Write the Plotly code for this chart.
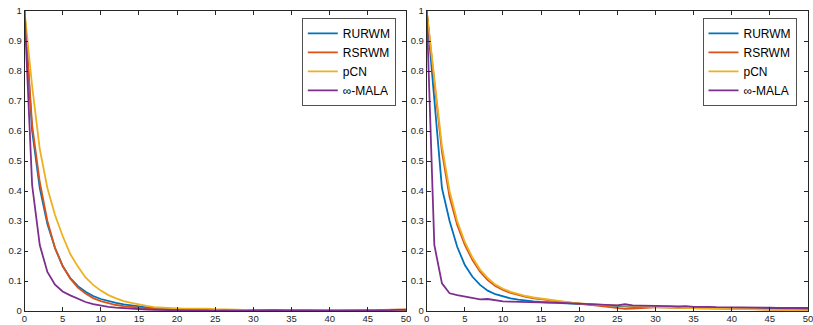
import plotly.graph_objects as go

lags = list(range(0, 51))
series_names = ["RURWM", "RSRWM", "pCN", "\u221e-MALA"]
colors = ["#0072BD", "#D95319", "#EDB120", "#7E2F8E"]

# Left panel
left_rurwm = [
    1, 0.60, 0.41, 0.29, 0.21, 0.15, 0.11, 0.083, 0.064, 0.05,
    0.04, 0.033, 0.027, 0.022, 0.018, 0.015, 0.012, 0.010, 0.008, 0.007,
    0.006, 0.005, 0.004, 0.004, 0.003, 0.003, 0.004, 0.003, 0.002, 0.002,
    0.002, 0.001, 0.002, 0.001, 0.001, 0.001, 0.001, 0.002, 0.001, 0.001,
    0.001, 0.001, 0.001, 0.001, 0.002, 0.002, 0.002, 0.001, 0.001, 0.001,
    0.001,
]
left_rsrwm = [
    1, 0.62, 0.43, 0.30, 0.21, 0.15, 0.108, 0.078, 0.058, 0.043,
    0.033, 0.026, 0.020, 0.016, 0.013, 0.011, 0.009, 0.007, 0.006, 0.005,
    0.004, 0.004, 0.003, 0.003, 0.002, 0.002, 0.002, 0.002, 0.001, 0.001,
    0.002, 0.002, 0.002, 0.001, 0.001, 0.001, 0.001, 0.001, 0.001, 0.002,
    0.001, 0.001, 0.002, 0.002, 0.002, 0.003, 0.003, 0.004, 0.004, 0.004,
    0.005,
]
left_pcn = [
    1, 0.75, 0.54, 0.41, 0.32, 0.25, 0.19, 0.148, 0.112, 0.087,
    0.068, 0.053, 0.042, 0.033, 0.027, 0.021, 0.017, 0.013, 0.011, 0.010,
    0.009, 0.008, 0.008, 0.009, 0.008, 0.006, 0.005, 0.004, 0.003, 0.003,
    0.002, 0.002, 0.002, 0.002, 0.001, 0.001, 0.001, 0.001, 0.001, 0.001,
    0.001, 0.001, 0.001, 0.001, 0.001, 0.001, 0.001, 0.001, 0.001, 0.001,
    0.001,
]
left_mala = [
    1, 0.42, 0.22, 0.13, 0.088, 0.065, 0.052, 0.040, 0.030, 0.023,
    0.018, 0.014, 0.011, 0.009, 0.008, 0.007, 0.005, 0.004, 0.003, 0.002,
    0.001, 0.002, 0.002, 0.001, 0.001, 0.001, 0.002, 0.001, 0.001, 0.001,
    0.002, 0.003, 0.004, 0.003, 0.002, 0.001, 0.002, 0.002, 0.001, 0.001,
    0.001, 0.001, 0.001, 0.002, 0.002, 0.002, 0.002, 0.003, 0.003, 0.004,
    0.004,
]

# Right panel
right_rurwm = [
    1, 0.70, 0.41, 0.30, 0.214, 0.153, 0.114, 0.087, 0.068, 0.056,
    0.048, 0.042, 0.038, 0.034, 0.032, 0.030, 0.029, 0.028, 0.027, 0.026,
    0.025, 0.024, 0.022, 0.020, 0.018, 0.016, 0.015, 0.014, 0.014, 0.013,
    0.013, 0.012, 0.012, 0.012, 0.011, 0.011, 0.011, 0.010, 0.010, 0.009,
    0.009, 0.008, 0.008, 0.008, 0.007, 0.007, 0.006, 0.006, 0.006, 0.005,
    0.005,
]
right_rsrwm = [
    1, 0.76, 0.53, 0.38, 0.287, 0.22, 0.17, 0.131, 0.103, 0.083,
    0.070, 0.060, 0.053, 0.047, 0.042, 0.039, 0.035, 0.032, 0.029, 0.026,
    0.024, 0.021, 0.018, 0.014, 0.011, 0.008, 0.007, 0.008, 0.010, 0.011,
    0.012, 0.012, 0.011, 0.011, 0.010, 0.010, 0.009, 0.009, 0.008, 0.008,
    0.007, 0.007, 0.006, 0.006, 0.005, 0.005, 0.004, 0.004, 0.003, 0.003,
    0.002,
]
right_pcn = [
    1, 0.78, 0.55, 0.40, 0.30, 0.23, 0.178, 0.138, 0.110, 0.088,
    0.074, 0.064, 0.056, 0.050, 0.045, 0.041, 0.038, 0.035, 0.031, 0.028,
    0.025, 0.023, 0.021, 0.020, 0.020, 0.019, 0.018, 0.017, 0.015, 0.014,
    0.013, 0.012, 0.012, 0.011, 0.010, 0.010, 0.009, 0.008, 0.008, 0.007,
    0.007, 0.006, 0.006, 0.005, 0.005, 0.004, 0.004, 0.003, 0.003, 0.002,
    0.002,
]
right_mala = [
    1, 0.22, 0.092, 0.059, 0.053, 0.048, 0.044, 0.039, 0.040, 0.036,
    0.032, 0.031, 0.030, 0.029, 0.029, 0.028, 0.028, 0.028, 0.027, 0.026,
    0.025, 0.024, 0.023, 0.022, 0.021, 0.019, 0.023, 0.019, 0.018, 0.018,
    0.017, 0.017, 0.016, 0.015, 0.016, 0.014, 0.015, 0.014, 0.013, 0.013,
    0.012, 0.013, 0.012, 0.012, 0.011, 0.011, 0.010, 0.010, 0.010, 0.009,
    0.010,
]

x_ticks = [0, 5, 10, 15, 20, 25, 30, 35, 40, 45, 50]
y_ticks = [0, 0.1, 0.2, 0.3, 0.4, 0.5, 0.6, 0.7, 0.8, 0.9, 1]
y_ticklabels = ["0", "0.1", "0.2", "0.3", "0.4", "0.5", "0.6", "0.7", "0.8", "0.9", "1"]

W, H = 813, 325
FONT = "Liberation Sans, Arial, Helvetica, sans-serif"
AX = "#262626"

fig = go.Figure()

panels = [
    ([left_rurwm, left_rsrwm, left_pcn, left_mala], "x", "y", "legend"),
    ([right_rurwm, right_rsrwm, right_pcn, right_mala], "x2", "y2", "legend2"),
]
for data, xa, ya, lg in panels:
    for name, vals, col in zip(series_names, data, colors):
        fig.add_trace(go.Scatter(
            x=lags, y=vals, name=name, mode="lines",
            line=dict(color=col, width=1.8),
            xaxis=xa, yaxis=ya, legend=lg,
        ))

def xaxis(domain, anchor):
    return dict(domain=domain, anchor=anchor, range=[0, 50], tickvals=x_ticks,
                ticks="inside", ticklen=4, tickwidth=0.8, tickcolor=AX,
                showline=True, linecolor=AX, linewidth=0.8, mirror="ticks",
                showgrid=False, zeroline=False, automargin=False,
                ticklabelstandoff=-1, ticklabeloverflow="allow",
                tickfont=dict(family=FONT, size=9.5, color=AX))

def yaxis(domain, anchor):
    return dict(domain=domain, anchor=anchor, range=[0, 1], tickvals=y_ticks,
                ticktext=y_ticklabels,
                ticks="inside", ticklen=4, tickwidth=0.8, tickcolor=AX,
                showline=True, linecolor=AX, linewidth=0.8, mirror="ticks",
                showgrid=False, zeroline=False, automargin=False,
                ticklabeloverflow="allow",
                tickfont=dict(family=FONT, size=9.5, color=AX))

ydom = [(H - 311) / H, (H - 11) / H]
legend_common = dict(
    bgcolor="white", bordercolor=AX, borderwidth=0.8,
    font=dict(family=FONT, size=12, color="#000000"),
    xanchor="right", yanchor="top", y=(H - 18) / H,
    tracegroupgap=0,
)

fig.update_layout(
    width=W, height=H,
    margin=dict(l=0, r=0, t=0, b=0, autoexpand=False),
    paper_bgcolor="white", plot_bgcolor="white",
    showlegend=True,
    xaxis=xaxis([24.5 / W, 406 / W], "y"),
    yaxis=yaxis(ydom, "x"),
    xaxis2=xaxis([426.7 / W, 808 / W], "y2"),
    yaxis2=yaxis(ydom, "x2"),
    legend=dict(x=396 / W, **legend_common),
    legend2=dict(x=796.7 / W, **legend_common),
)

fig.write_html(
    "out.html",
    config={"displayModeBar": False},
    post_script="document.body.style.margin='0';document.body.style.overflow='hidden';",
)
